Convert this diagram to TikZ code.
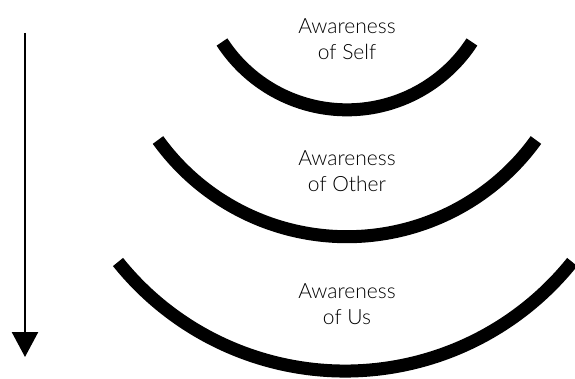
\documentclass[tikz,border=0pt]{standalone}
\usepackage{fontspec}
\setmainfont{Lato}[UprightFont=* Light]
\usepackage{tikz}
\usetikzlibrary{arrows.meta}

\begin{document}
\begin{tikzpicture}[x=1pt,y=1pt,
      ring/.style={line width=13pt},
      label/.style={align=center,inner sep=0pt,text=black,font=\fontsize{21}{26}\selectfont},
      arr/.style={-{Triangle[width=26pt,length=25pt]},line width=2.5pt}]
    \useasboundingbox (0,0) rectangle (575,378);
    % arcs, inner to outer
    \draw[ring] (222,336) arc[start angle=213,end angle=327,radius=149];
    \draw[ring] (158,238) arc[start angle=215.8,end angle=324.2,radius=233];
    \draw[ring] (118,116) arc[start angle=218.7,end angle=321.3,radius=291];
    % labels
    \node[label] (self) at (347,339) {Awareness\\of Self};
    \node[label] (other) at (347,207) {Awareness\\of Other};
    \node[label] (us) at (347,73.5) {Awareness\\of Us};
    % arrow
    \coordinate (top) at (25,345);
    \coordinate (bottom) at (25,21);
    \draw[arr] (top) -- (bottom);
\end{tikzpicture}
\end{document}
